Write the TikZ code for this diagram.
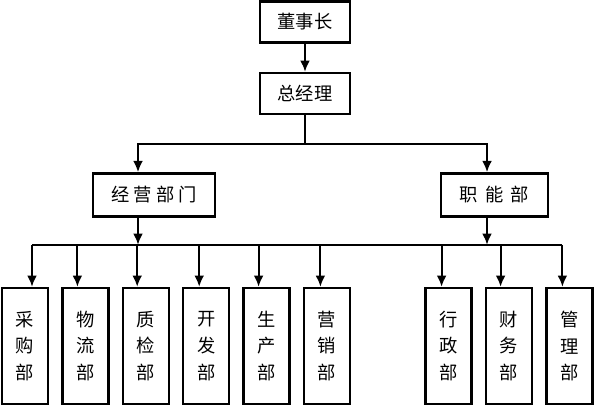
\documentclass[tikz,border=0pt]{standalone}
\usepackage{fontspec}
\setmainfont{Noto Sans CJK SC}
\usetikzlibrary{positioning, arrows.meta}
\tikzset{node distance=1.51cm, % spacing of the department boxes
every node/.style={ % all boxes
draw, line width=1.7pt,
font=\fontsize{13}{19}\selectfont},
headbox/.style={ % top two boxes
minimum width=2.25cm, minimum height=1.03cm},
groupbox/.style={ % the two middle boxes
minimum height=1.08cm},
deptbox/.style={ % narrow boxes at the bottom
minimum width=1.15cm, minimum height=2.9cm,
align=center, inner sep=1pt},
line/.style={line width=1.5pt},
arr/.style={ % connectors with filled heads
line, ->, >={Latex[length=8pt,width=7pt]}}}

\begin{document}
\begin{tikzpicture}
    \useasboundingbox (0,0) rectangle (14.85,-10.15);

    \node[headbox] (dsz) at (7.625,-0.55) {董事长};
    \node[headbox, below of=dsz, yshift=-0.28cm] (zjl) {总经理};
    \node[groupbox, minimum width=3.05cm, below of=zjl, xshift=-3.775cm, yshift=-1.025cm] (jybm) {经\hspace{3pt}营\hspace{3pt}部\hspace{3pt}门};
    \node[groupbox, minimum width=2.68cm, below of=zjl, xshift=4.735cm, yshift=-1.025cm] (znb) {职\hspace{5pt}能\hspace{5pt}部};

    \node[deptbox, below of=jybm, xshift=-3.225cm, yshift=-2.265cm] (caigou) {采\\购\\部};
    \node[deptbox, right of=caigou] (wuliu) {物\\流\\部};
    \node[deptbox, right of=wuliu] (zhijian) {质\\检\\部};
    \node[deptbox, right of=zhijian] (kaifa) {开\\发\\部};
    \node[deptbox, right of=kaifa] (shengchan) {生\\产\\部};
    \node[deptbox, right of=shengchan] (yingxiao) {营\\销\\部};
    \node[deptbox, right of=yingxiao, xshift=1.53cm] (xingzheng) {行\\政\\部};
    \node[deptbox, right of=xingzheng] (caiwu) {财\\务\\部};
    \node[deptbox, right of=caiwu] (guanli) {管\\理\\部};

    \draw[arr] (dsz) -- (zjl);
    \draw[line] (zjl.south) -- ++(0,-0.725) coordinate (busA);
    \draw[arr] (busA) -| ([xshift=-0.4cm]jybm.north);
    \draw[arr] (busA) -| ([xshift=-0.185cm]znb.north);

    \foreach \n/\dx in {caigou/0.175, wuliu/-0.2, zhijian/-0.215, kaifa/-0.175,
        shengchan/-0.2, yingxiao/-0.165, xingzheng/-0.175, caiwu/-0.21, guanli/-0.175}
        \draw[arr] ([xshift=\dx cm, yshift=1.05cm]\n.north) coordinate (t\n) -- ([xshift=\dx cm]\n.north);
    \draw[line] (tcaigou) -- (tguanli);

    \draw[arr] ([xshift=-0.4cm]jybm.south) -- ([xshift=-0.4cm]jybm.south |- tcaigou);
    \draw[arr] ([xshift=-0.185cm]znb.south) -- ([xshift=-0.185cm]znb.south |- tcaigou);

\end{tikzpicture}
\end{document}
